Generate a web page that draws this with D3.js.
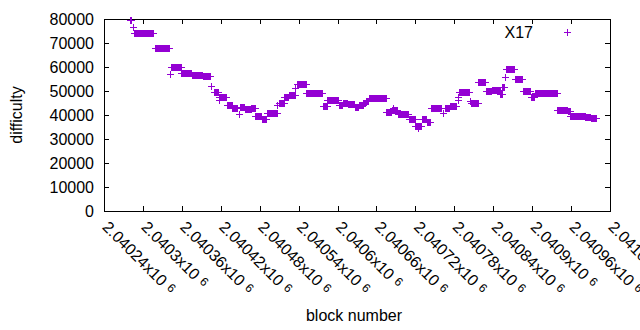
<!DOCTYPE html>
<html>
<head>
<meta charset="utf-8">
<script src="https://cdn.jsdelivr.net/npm/d3@7"></script>
<style>
  html, body { margin: 0; padding: 0; background: #fff; }
  svg { display: block; }
  text { font-family: "Liberation Sans", Arial, sans-serif; fill: #000; }
</style>
</head>
<body>
<svg id="chart" width="640" height="330"></svg>
<script>
// ---- data ----
const seriesName = "X17";
const xTickValues = [2040240, 2040300, 2040360, 2040420, 2040480, 2040540, 2040600,
                     2040660, 2040720, 2040780, 2040840, 2040900, 2040960, 2041020];
const xTickLabels = ["2.04024", "2.0403", "2.04036", "2.04042", "2.04048", "2.04054", "2.0406",
                     "2.04066", "2.04072", "2.04078", "2.04084", "2.0409", "2.04096", "2.04102"];
const yTickValues = [0, 10000, 20000, 30000, 40000, 50000, 60000, 70000, 80000];

// runs of consecutive blocks sharing the same difficulty: first block, last block, difficulty
const runFirst = [2040280, 2040284, 2040287, 2040318, 2040342, 2040344, 2040359, 2040375, 2040392,
  2040405, 2040409, 2040417, 2040418, 2040429, 2040438, 2040448, 2040449, 2040457, 2040467,
  2040473, 2040484, 2040491, 2040507, 2040509, 2040518, 2040525, 2040535, 2040537, 2040552,
  2040577, 2040584, 2040602, 2040608, 2040616, 2040627, 2040633, 2040640, 2040644, 2040648,
  2040675, 2040684, 2040686, 2040693, 2040710, 2040720, 2040724, 2040730, 2040738, 2040744,
  2040762, 2040766, 2040773, 2040785, 2040786, 2040787, 2040804, 2040805, 2040817, 2040829,
  2040838, 2040851, 2040854, 2040858, 2040860, 2040873, 2040886, 2040898, 2040904, 2040939,
  2040955, 2040959, 2040982, 2040990];
const runLast = [2040282, 2040284, 2040316, 2040340, 2040342, 2040358, 2040374, 2040391, 2040403,
  2040405, 2040415, 2040417, 2040428, 2040437, 2040445, 2040448, 2040456, 2040466, 2040472,
  2040482, 2040490, 2040506, 2040507, 2040517, 2040524, 2040534, 2040535, 2040551, 2040576,
  2040583, 2040601, 2040607, 2040615, 2040626, 2040632, 2040639, 2040643, 2040647, 2040674,
  2040683, 2040692, 2040686, 2040709, 2040719, 2040729, 2040724, 2040737, 2040743, 2040760,
  2040762, 2040772, 2040783, 2040785, 2040786, 2040803, 2040804, 2040816, 2040828, 2040837,
  2040850, 2040853, 2040856, 2040858, 2040872, 2040885, 2040897, 2040903, 2040938, 2040954,
  2040958, 2040981, 2040989, 2040998];
const runDifficulty = [79700, 76800, 74000, 68000, 57000, 60000, 57500, 56700, 56200,
  52200, 49500, 46300, 47300, 44000, 42900, 40400, 43300, 42600, 42900,
  39400, 38200, 40800, 44200, 44900, 47300, 48300, 51300, 52900, 49100,
  43700, 46200, 44200, 44900, 44500, 43200, 44200, 44900, 45900, 47000,
  41200, 42000, 43000, 40400, 38300, 35600, 34500, 38300, 37000, 42900,
  40900, 43000, 43700, 46300, 47700, 49500, 45800, 44900, 53700, 50000,
  50300, 48700, 51800, 55800, 59100, 55000, 50200, 47700, 49100, 41900,
  41500, 39400, 39100, 38700];

// table of points, one per block
const points = [];
runFirst.forEach((f, i) => {
  for (let b = f; b <= runLast[i]; b++) points.push({ block: b, difficulty: runDifficulty[i] });
});

// ---- layout ----
const color = "#9400d3";
const plotLeft = 104, plotRight = 610, plotTop = 19, plotBottom = 211;
const fontSize = 16;

const svg = d3.select("#chart");
const x = d3.scaleLinear().domain([2040240, 2041020]).range([plotLeft, plotRight]);
const y = d3.scaleLinear().domain([0, 80000]).range([plotBottom, plotTop]);

const gy = svg.append("g").attr("transform", `translate(${plotLeft},0)`)
  .call(d3.axisLeft(y).tickValues(yTickValues).tickSizeInner(-5).tickSizeOuter(0)
        .tickPadding(10).tickFormat(d => String(d)));
const gyr = svg.append("g").attr("transform", `translate(${plotRight},0)`)
  .call(d3.axisRight(y).tickValues(yTickValues).tickSizeInner(-5).tickSizeOuter(0).tickFormat(""));
const gx = svg.append("g").attr("transform", `translate(0,${plotBottom})`)
  .call(d3.axisBottom(x).tickValues(xTickValues).tickSizeInner(-5).tickSizeOuter(0)
        .tickFormat((d, i) => xTickLabels[i]));
const gxt = svg.append("g").attr("transform", `translate(0,${plotTop})`)
  .call(d3.axisTop(x).tickValues(xTickValues).tickSizeInner(-5).tickSizeOuter(0).tickFormat(""));

[gy, gyr, gx, gxt].forEach(g => {
  g.select(".domain").remove();
  g.selectAll(".tick line").attr("stroke", "#000").attr("shape-rendering", "crispEdges");
  g.selectAll("text").attr("font-size", fontSize).attr("font-family", '"Liberation Sans", Arial, sans-serif').attr("fill", "#000");
});
gy.selectAll(".tick text").attr("dy", "0.36em");

gx.selectAll(".tick text").each(function (d, i) {
  const t = d3.select(this);
  t.text(null)
    .attr("x", 0).attr("y", 0).attr("dy", null)
    .attr("text-anchor", "start")
    .attr("transform", "translate(-3,17) rotate(45)");
  t.append("tspan").text(xTickLabels[i] + "x10");
  t.append("tspan").attr("font-size", 12).attr("dx", 5).attr("dy", -3).text("6");
});

svg.append("rect").attr("x", plotLeft).attr("y", plotTop)
  .attr("width", plotRight - plotLeft).attr("height", plotBottom - plotTop)
  .attr("fill", "none").attr("stroke", "#000").attr("stroke-width", 1).attr("shape-rendering", "crispEdges");

const h = 3.5;
const plus = (cx, cy) => `M${cx - h},${cy}H${cx + h}M${cx},${cy - h}V${cy + h}`;
svg.append("path")
  .attr("d", points.map(p => plus(Math.round(x(p.block)) + 0.5, Math.round(y(p.difficulty)) + 0.5)).join(""))
  .attr("fill", "none").attr("stroke", color).attr("stroke-width", 1).attr("shape-rendering", "crispEdges");

svg.append("text").attr("x", 533).attr("y", 38).attr("text-anchor", "end")
  .attr("font-size", fontSize).text(seriesName);
svg.append("path").attr("d", plus(567.5, 32.5))
  .attr("fill", "none").attr("stroke", color).attr("stroke-width", 1).attr("shape-rendering", "crispEdges");

svg.append("text").attr("transform", "translate(22,115) rotate(-90)").attr("text-anchor", "middle")
  .attr("font-size", fontSize).text("difficulty");
svg.append("text").attr("x", 354).attr("y", 321).attr("text-anchor", "middle")
  .attr("font-size", fontSize).text("block number");
</script>
</body>
</html>
